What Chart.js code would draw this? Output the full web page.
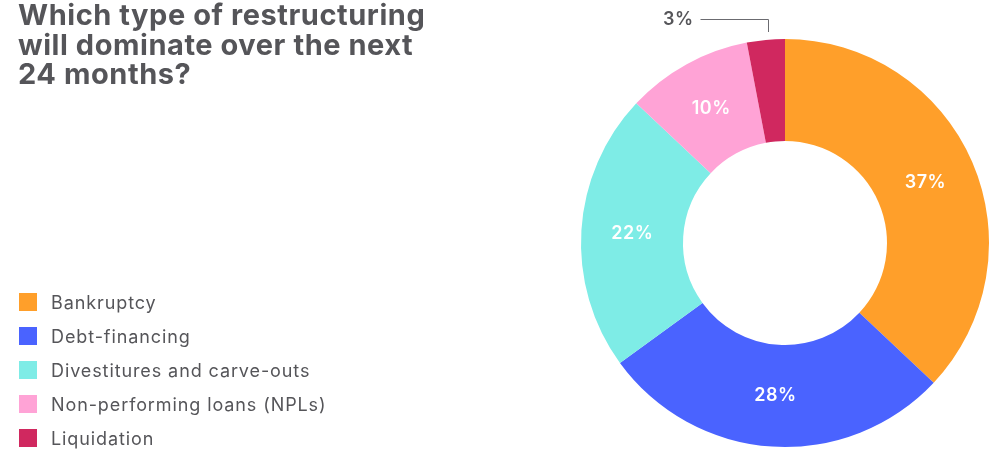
<!DOCTYPE html>
<html>
<head>
<meta charset="utf-8">
<script src="https://cdn.jsdelivr.net/npm/chart.js@4"></script>
<style>
  html, body { margin: 0; padding: 0; background: #fff; }
  #wrap { position: relative; width: 1002px; height: 451px; overflow: hidden; }
  #chart { position: absolute; left: 0; top: 0; }
  #title {
    position: absolute; left: 18px; top: 0px; margin: 0;
    font-family: Inter, "Noto Sans", sans-serif; font-weight: 700;
    font-size: 29px; line-height: 29.5px; color: #555559; letter-spacing: 0.55px;
  }
  #legend {
    position: absolute; left: 19px; top: 285px; margin: 0; padding: 0; list-style: none;
    font-family: Inter, "Noto Sans", sans-serif; font-size: 18px; color: #555559;
    letter-spacing: 0.9px;
  }
  #legend li { height: 34px; display: flex; align-items: center; }
  #legend span.sw { width: 18px; height: 18px; margin-right: 14px; flex: none; }
</style>
</head>
<body>
<div id="wrap">
  <canvas id="chart" width="1002" height="451"></canvas>
  <h1 id="title">Which type of restructuring<br>will dominate over the next<br>24 months?</h1>
  <ul id="legend"></ul>
</div>
<script>
const categories = ['Bankruptcy', 'Debt-financing', 'Divestitures and carve-outs', 'Non-performing loans (NPLs)', 'Liquidation'];
const shares = [37, 28, 22, 10, 3];
const colors = ['#FF9F2A', '#4A63FF', '#7EECE6', '#FFA3D6', '#D0285F'];
// slices too thin for an inside label get a leader line instead
const outsideLabel = [false, false, false, false, true];

const legend = document.getElementById('legend');
categories.forEach((name, i) => {
  const li = document.createElement('li');
  const sw = document.createElement('span');
  sw.className = 'sw';
  sw.style.background = colors[i];
  li.appendChild(sw);
  li.appendChild(document.createTextNode(name));
  legend.appendChild(li);
});

const sliceLabels = {
  id: 'sliceLabels',
  afterDatasetsDraw(chart) {
    const ctx = chart.ctx;
    const meta = chart.getDatasetMeta(0);
    ctx.save();
    ctx.font = '600 18px Inter, "Noto Sans", sans-serif';
    ctx.letterSpacing = '0.5px';
    ctx.textBaseline = 'middle';
    meta.data.forEach((arc, i) => {
      const text = shares[i] + '%';
      const p = arc.getProps(['x', 'y', 'startAngle', 'endAngle', 'innerRadius', 'outerRadius'], true);
      const mid = (p.startAngle + p.endAngle) / 2;
      if (!outsideLabel[i]) {
        const r = (p.innerRadius + p.outerRadius) / 2;
        ctx.fillStyle = '#ffffff';
        ctx.textAlign = 'center';
        ctx.fillText(text, p.x + Math.cos(mid) * r, p.y + Math.sin(mid) * r);
      } else {
        // leader: short drop above the slice, then a run to the left
        const x0 = Math.round(p.x + Math.cos(mid) * p.outerRadius * 0.91) + 0.5;
        const y0 = p.y - p.outerRadius - 7;
        const yTop = p.y - p.outerRadius - 19.5;
        const x1 = x0 - 68;
        ctx.strokeStyle = '#6b6b70';
        ctx.lineWidth = 1;
        ctx.beginPath();
        ctx.moveTo(x0, y0);
        ctx.lineTo(x0, yTop);
        ctx.lineTo(x1, yTop);
        ctx.stroke();
        ctx.fillStyle = '#555559';
        ctx.textAlign = 'right';
        ctx.fillText(text, x1 - 7, yTop);
      }
    });
    ctx.restore();
  }
};

new Chart(document.getElementById('chart'), {
  type: 'doughnut',
  data: {
    labels: categories,
    datasets: [{
      data: shares,
      backgroundColor: colors,
      borderWidth: 0,
      hoverOffset: 0
    }]
  },
  options: {
    responsive: false,
    animation: false,
    cutout: '50%',
    layout: { padding: { left: 581, right: 13, top: 39, bottom: 4 } },
    plugins: { legend: { display: false }, tooltip: { enabled: false } }
  },
  plugins: [sliceLabels]
});
</script>
</body>
</html>
